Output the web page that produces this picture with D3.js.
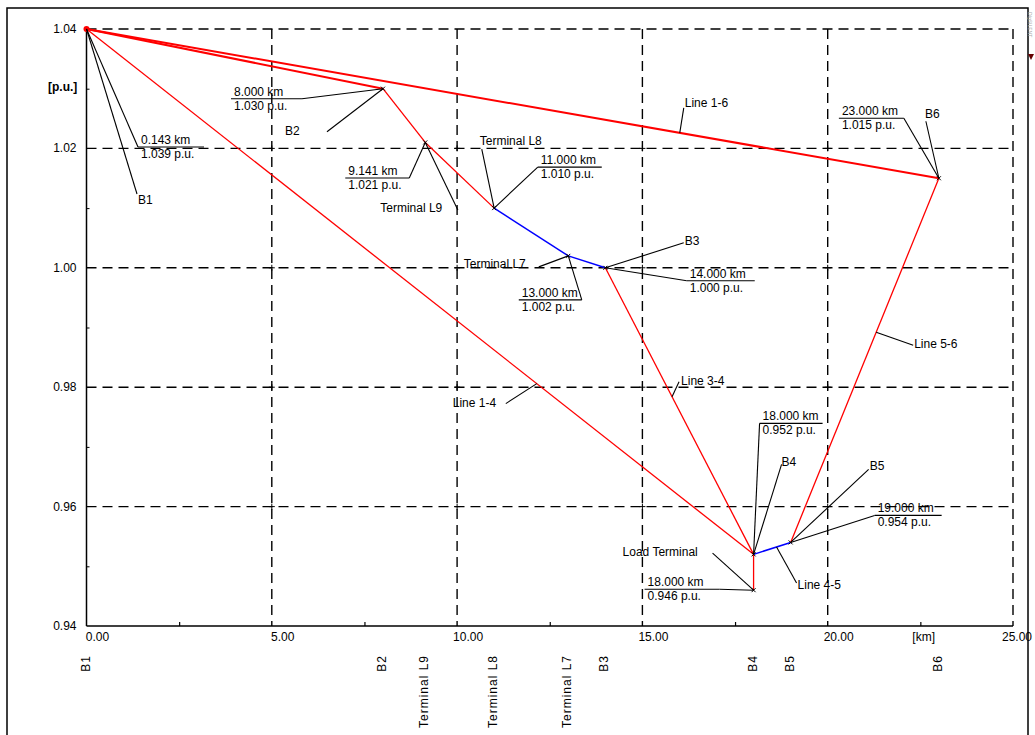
<!DOCTYPE html>
<html>
<head>
<meta charset="utf-8">
<script src="https://cdn.jsdelivr.net/npm/d3@7"></script>
<style>
  html, body { margin: 0; padding: 0; background: #fff; }
  svg { display: block; font-family: "Liberation Sans", Arial, sans-serif; }
</style>
</head>
<body>
<svg id="chart" width="1035" height="735"></svg>
<script>
// ---------------- DATA ----------------
const nodeNames   = ["B1", "B2", "Terminal L9", "Terminal L8", "Terminal L7", "B3", "B4", "Load Terminal", "B5", "B6"];
const nodeDistKm  = [0.000, 8.000, 9.141, 11.000, 13.000, 14.000, 18.000, 18.000, 19.000, 23.000];
const nodeVoltPu  = [1.040, 1.030, 1.021, 1.010, 1.002, 1.000, 0.952, 0.946, 0.954, 1.015];
const valueLabelKm = ["0.143", "8.000", "9.141", "11.000", "13.000", "14.000", "18.000", "18.000", "19.000", "23.000"];
const valueLabelPu = ["1.039", "1.030", "1.021", "1.010", "1.002", "1.000", "0.952", "0.946", "0.954", "1.015"];

const branchFrom = ["B1", "B1", "B2", "Terminal L9", "Terminal L8", "Terminal L7", "B3", "B1", "B4", "B4", "B5"];
const branchTo   = ["B6", "B2", "Terminal L9", "Terminal L8", "Terminal L7", "B3", "B4", "B4", "Load Terminal", "B5", "B6"];
const branchKind = ["line", "line", "line", "line", "cable", "cable", "line", "line", "line", "cable", "line"];
const branchName = ["Line 1-6", "", "", "", "", "", "Line 3-4", "Line 1-4", "", "Line 4-5", "Line 5-6"];

const bottomLabels = ["B1", "B2", "Terminal L9", "Terminal L8", "Terminal L7", "B3", "B4", "B5", "B6"];

const xTicks = [0, 5, 10, 15, 20, 25];
const xTickLabels = ["0.00", "5.00", "10.00", "15.00", "20.00", "25.00"];
const yTicks = [0.94, 0.96, 0.98, 1.00, 1.02, 1.04];
const yTickLabels = ["0.94", "0.96", "0.98", "1.00", "1.02", "1.04"];
const xMinor = [2.5, 7.5, 12.5, 17.5, 22.5];
const yMinor = [0.95, 0.97, 0.99, 1.01, 1.03];

// ---------------- LAYOUT / STYLE ----------------
const kindColor = { line: "#ff0000", cable: "#0000ff" };
const kindWidth = { line: 1.3, cable: 1.5 };
const heavyBranches = [0, 1];
const valueBox = {
  "B1":            { x1: 51.5, x2: 117.5, dy: 118, side: "left" },
  "B2":            { x1: -152, x2: -81,  dy: 10,   side: "right" },
  "Terminal L9":   { x1: -80,  x2: -16,  dy: 35.5, side: "right" },
  "Terminal L8":   { x1: 43.6, x2: 107.6, dy: -41, side: "left" },
  "Terminal L7":   { x1: -49.5, x2: 13.5, dy: 44,  side: "right" },
  "B3":            { x1: 81.4, x2: 149.4, dy: 13,  side: "left" },
  "B4":            { x1: 6,    x2: 69,   dy: -131, side: "left" },
  "Load Terminal": { x1: -109, x2: -34,  dy: -1,   side: "right" },
  "B5":            { x1: 84,   x2: 151,  dy: -27,  side: "left" },
  "B6":            { x1: -100, x2: -35,  dy: -60,  side: "right" }
};
const nameBox = {
  "B1":            { tx: 51.5, ty: 171, lx: 50.5, ly: 165 },
  "B2":            { tx: -98,  ty: 42,  lx: -56,  ly: 43 },
  "Terminal L9":   { tx: -45,  ty: 65.5, lx: 32.6, ly: 67.5 },
  "Terminal L8":   { tx: -14.4, ty: -67, lx: -12.4, ly: -59 },
  "Terminal L7":   { tx: -104.5, ty: 8, lx: -29.5, ly: 11 },
  "B3":            { tx: 79.4, ty: -27, lx: 78.4, ly: -25 },
  "B4":            { tx: 28,   ty: -92, lx: 28,   ly: -90 },
  "Load Terminal": { tx: -131, ty: -38, lx: -41,  ly: -37 },
  "B5":            { tx: 79,   ty: -76, lx: 78,   ly: -73 },
  "B6":            { tx: -14,  ty: -64, lx: -13,  ly: -57 }
};
const branchBox = {
  "Line 1-6": { t: 0.696, tx: 5,   ty: -30, lx: 4,   ly: -25 },
  "Line 3-4": { t: 0.45,  tx: 9,   ty: -16, lx: 7,   ly: -15 },
  "Line 1-4": { t: 0.675, tx: -84, ty: 19,  lx: -31, ly: 20 },
  "Line 5-6": { t: 0.577, tx: 38,  ty: 12,  lx: 37,  ly: 13 },
  "Line 4-5": { t: 0.62,  tx: 21,  ty: 38,  lx: 20,  ly: 36 }
};

// ---------------- SCALES ----------------
const svg = d3.select("#chart");
const x = d3.scaleLinear().domain([0, 25]).range([86.5, 1013]);
const y = d3.scaleLinear().domain([0.94, 1.04]).range([626, 29]);
const FS = 12;

const nodeIdx = {};
nodeNames.forEach((n, i) => nodeIdx[n] = i);
const P = n => [x(nodeDistKm[nodeIdx[n]]), y(nodeVoltPu[nodeIdx[n]])];

// frame
svg.append("rect").attr("x", 7).attr("y", 8).attr("width", 1021).attr("height", 745)
  .attr("fill", "none").attr("stroke", "#000").attr("stroke-width", 1.5);

// tiny mark top-right
svg.append("text").attr("transform", "translate(1028,12) rotate(90)")
  .attr("font-size", 5).attr("fill", "#aaa").text("DIgSILENT");
svg.append("path").attr("d", "M1028,54 L1034,54 L1031,60 Z").attr("fill", "#600");

// grid (dashed)
const grid = svg.append("g").attr("stroke", "#000").attr("stroke-width", 1.4).attr("stroke-dasharray", "10,6");
grid.selectAll("line.gx").data(xTicks.filter(d => d > 0)).join("line")
  .attr("x1", d => x(d)).attr("x2", d => x(d)).attr("y1", y(1.04)).attr("y2", y(0.94));
grid.selectAll("line.gy").data(yTicks.filter(d => d > 0.94)).join("line")
  .attr("y1", d => y(d)).attr("y2", d => y(d)).attr("x1", x(0)).attr("x2", x(25));

// small crosses at grid intersections
const cross = svg.append("g").attr("stroke", "#000").attr("stroke-width", 1);
xTicks.filter(d => d > 0 && d < 25).forEach(xv => {
  yTicks.filter(d => d > 0.94 && d < 1.04).forEach(yv => {
    cross.append("path").attr("d", `M${x(xv)-3},${y(yv)}H${x(xv)+3}M${x(xv)},${y(yv)-3}V${y(yv)+3}`);
  });
});

// axes
const xAxis = d3.axisBottom(x).tickValues(xMinor).tickSize(-4).tickFormat("");
const gx = svg.append("g").attr("transform", `translate(0,${y(0.94)})`).call(xAxis);
gx.select(".domain").attr("d", `M${x(0)},0H${x(25)}`).attr("stroke-width", 1.5);
gx.selectAll(".tick line").attr("stroke-width", 1.2);

const yAxis = d3.axisLeft(y).tickValues(yMinor).tickSize(-3).tickFormat("");
const gy = svg.append("g").attr("transform", `translate(${x(0)},0)`).call(yAxis);
gy.select(".domain").attr("d", `M0,${y(1.04)}V${y(0.94)}`).attr("stroke-width", 1.5);

// tick labels
svg.append("g").selectAll("text").data(xTicks).join("text")
  .attr("x", d => Math.min(x(d) + 11, 1017)).attr("y", y(0.94) + 15)
  .attr("text-anchor", "middle").attr("font-size", FS)
  .text((d, i) => xTickLabels[i]);
svg.append("g").selectAll("text").data(yTicks).join("text")
  .attr("x", x(0) - 10).attr("y", d => y(d) + 4)
  .attr("text-anchor", "end").attr("font-size", FS)
  .text((d, i) => yTickLabels[i]);
svg.append("text").attr("x", 48).attr("y", 91).attr("font-size", FS).attr("font-weight", "bold").text("[p.u.]");
svg.append("text").attr("x", x(22.5) - 8).attr("y", y(0.94) + 15).attr("font-size", FS).text("[km]");

// bottom rotated node labels
svg.append("g").selectAll("text").data(bottomLabels).join("text")
  .attr("transform", d => `translate(${P(d)[0] + 3},655) rotate(-90)`)
  .attr("text-anchor", "end").attr("font-size", FS).attr("letter-spacing", 1)
  .text(d => d);

// branches
const branches = branchFrom.map((f, i) => ({ f, t: branchTo[i], kind: branchKind[i], name: branchName[i], i }));
svg.append("g").selectAll("line").data(branches).join("line")
  .attr("x1", d => P(d.f)[0]).attr("y1", d => P(d.f)[1])
  .attr("x2", d => P(d.t)[0]).attr("y2", d => P(d.t)[1])
  .attr("stroke", d => kindColor[d.kind])
  .attr("stroke-width", d => heavyBranches.includes(d.i) ? 2 : kindWidth[d.kind]);

// node markers
svg.append("circle").attr("cx", P("B1")[0]).attr("cy", P("B1")[1]).attr("r", 3).attr("fill", "#ff0000");
svg.append("g").attr("stroke", "#000").attr("stroke-width", 1).selectAll("path")
  .data(nodeNames.filter(n => n !== "B1")).join("path")
  .attr("d", n => { const [px, py] = P(n); return `M${px-2},${py-2}L${px+2},${py+2}M${px-2},${py+2}L${px+2},${py-2}`; });

// annotation layer
const ann = svg.append("g");
const leader = (x1, y1, x2, y2) => ann.append("line").attr("x1", x1).attr("y1", y1).attr("x2", x2).attr("y2", y2)
  .attr("stroke", "#000").attr("stroke-width", 1.1);
const label = (tx, ty, s) => ann.append("text").attr("x", tx).attr("y", ty + 4).attr("font-size", FS).text(s);

nodeNames.forEach((n, i) => {
  const [px, py] = P(n);
  const vb = valueBox[n];
  const ux1 = px + vb.x1, ux2 = px + vb.x2, uy = py + vb.dy;
  leader(ux1, uy, ux2, uy);
  const ax = vb.side === "left" ? ux1 : ux2;
  leader(ax, uy, px, py);
  ann.append("text").attr("x", ux1 + 3).attr("y", uy - 3).attr("font-size", FS).text(`${valueLabelKm[i]} km`);
  ann.append("text").attr("x", ux1 + 3).attr("y", uy + 11).attr("font-size", FS).text(`${valueLabelPu[i]} p.u.`);

  const nb = nameBox[n];
  label(px + nb.tx, py + nb.ty, n);
  leader(px + nb.lx, py + nb.ly, px, py);
});

branches.filter(b => b.name).forEach(b => {
  const bb = branchBox[b.name];
  const [x1, y1] = P(b.f), [x2, y2] = P(b.t);
  const ax = x1 + (x2 - x1) * bb.t, ay = y1 + (y2 - y1) * bb.t;
  label(ax + bb.tx, ay + bb.ty, b.name);
  leader(ax + bb.lx, ay + bb.ly, ax, ay);
});
</script>
</body>
</html>
